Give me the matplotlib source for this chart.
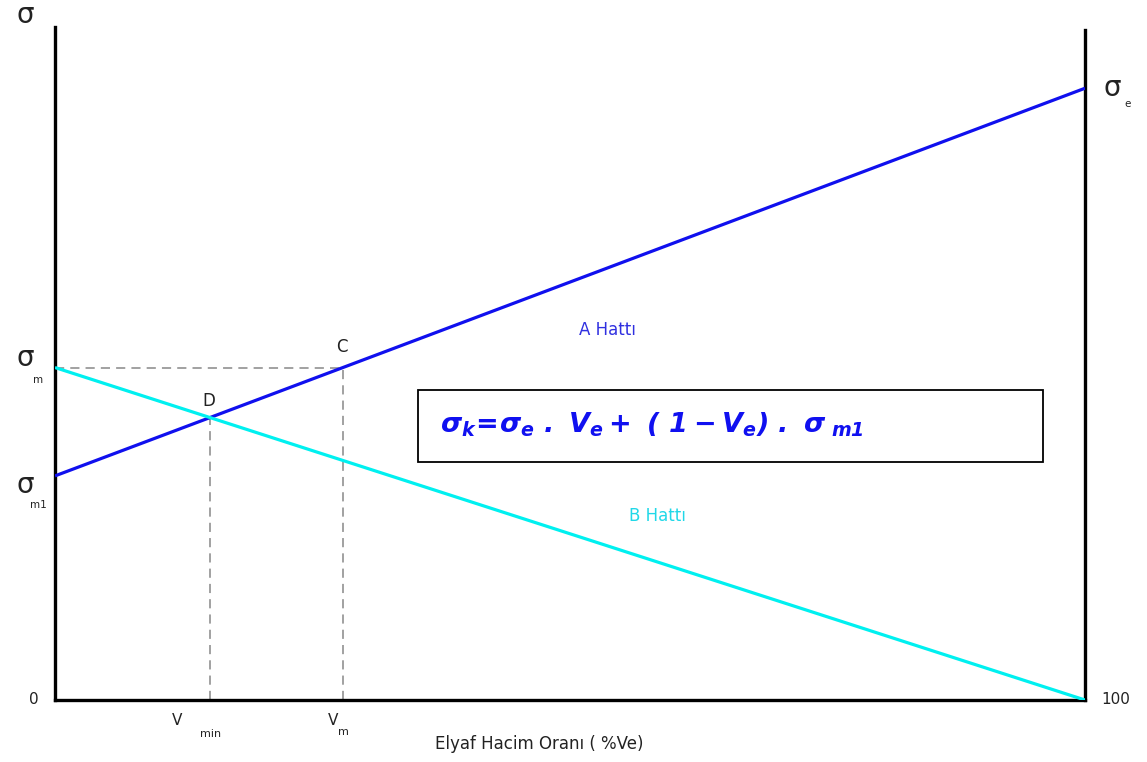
import numpy as np
import matplotlib
matplotlib.use("Agg")
import matplotlib.pyplot as plt
from matplotlib.patches import Rectangle

# fibre volume fraction axis (%Ve) and stress levels on a 0..100 scale
x_ends = [0, 100]
sigma_m = 49.4     # matrix strength
sigma_m1 = 33.3    # matrix stress at fibre failure strain
sigma_e = 90.9     # fibre strength
line_a = [sigma_m1, sigma_e]   # A Hattı
line_b = [sigma_m, 0.0]        # B Hattı

plt.rcParams['font.family'] = ['DejaVu Sans']
plt.rcParams['mathtext.fontset'] = 'custom'
plt.rcParams['mathtext.rm'] = 'DejaVu Sans:bold:italic'
plt.rcParams['mathtext.it'] = 'DejaVu Sans:bold:italic'

fig = plt.figure(figsize=(11.47, 7.62), dpi=100)
ax = fig.add_axes([55/1147, 1 - 700/762, 1030/1147, 673/762])
ax.set_xlim(0, 100)
ax.set_ylim(0, 100)

ax.plot(x_ends, line_a, color="#1010ee", lw=2.3, solid_capstyle='butt', zorder=3)
ax.plot(x_ends, line_b, color="#00f0f0", lw=2.3, solid_capstyle='butt', zorder=3)

# intersections: D (A meets B), C (A reaches sigma_m)
slope_a = (line_a[1] - line_a[0]) / 100
slope_b = (line_b[1] - line_b[0]) / 100
x_d = (line_b[0] - line_a[0]) / (slope_a - slope_b)
y_d = line_a[0] + slope_a * x_d
x_c = (sigma_m - line_a[0]) / slope_a

dash = dict(color="#888888", lw=1.1, ls=(0, (6, 4)), zorder=2)
ax.plot([0, x_c], [sigma_m, sigma_m], **dash)
ax.plot([x_c, x_c], [0, sigma_m], **dash)
ax.plot([x_d, x_d], [0, y_d], **dash)

ax.spines['top'].set_visible(False)
for s in ['left', 'right', 'bottom']:
    ax.spines[s].set_linewidth(2.4)
    ax.spines[s].set_color('black')
ax.spines['right'].set_bounds(0, 99.5)
ax.set_xticks([])
ax.set_yticks([])

txt = "#222222"
big = 20
sub = 7.5
ax.text(-2.9, 101.8, "σ", fontsize=big, color=txt, ha='center', va='center', clip_on=False)
ax.text(-2.9, sigma_m + 1.4, "σ", fontsize=big, color=txt, ha='center', va='center', clip_on=False)
ax.text(-1.6, sigma_m - 1.8, "m", fontsize=sub, color=txt, ha='center', va='center', clip_on=False)
ax.text(-2.9, sigma_m1 - 1.3, "σ", fontsize=big, color=txt, ha='center', va='center', clip_on=False)
ax.text(-1.6, sigma_m1 - 4.3, "m1", fontsize=sub, color=txt, ha='center', va='center', clip_on=False)
ax.text(102.7, sigma_e, "σ", fontsize=big, color=txt, ha='center', va='center', clip_on=False)
ax.text(104.1, sigma_e - 2.3, "e", fontsize=sub, color=txt, ha='center', va='center', clip_on=False)
ax.text(-2.1, 0, "0", fontsize=11, color=txt, ha='center', va='center', clip_on=False)
ax.text(103.0, 0, "100", fontsize=11, color=txt, ha='center', va='center', clip_on=False)

ax.text(x_d - 3.2, -3.0, "V", fontsize=11, color=txt, ha='center', va='center', clip_on=False)
ax.text(x_d + 0.1, -5.0, "min", fontsize=8, color=txt, ha='center', va='center', clip_on=False)
ax.text(x_c - 1.0, -3.0, "V", fontsize=11, color=txt, ha='center', va='center', clip_on=False)
ax.text(x_c + 0.1, -4.8, "m", fontsize=8, color=txt, ha='center', va='center', clip_on=False)
ax.text(47.0, -6.6, "Elyaf Hacim Oranı ( %Ve)", fontsize=12, color=txt, ha='center', va='center', clip_on=False)

ax.text(x_c - 0.1, sigma_m + 3.0, "C", fontsize=12, color=txt, ha='center', va='center')
ax.text(x_d - 0.1, y_d + 2.5, "D", fontsize=12, color=txt, ha='center', va='center')

ax.text(53.6, 55.0, "A Hattı", fontsize=12, color="#3030e0", ha='center', va='center')
ax.text(58.5, 27.3, "B Hattı", fontsize=12, color="#20d8e8", ha='center', va='center')

ax.add_patch(Rectangle((35.2, 35.4), 60.7, 10.7, fill=False, ec='black', lw=1.3, zorder=4))
ax.text(37.4, 40.9,
        r"$\sigma_k\!=\!\sigma_e\ .\ V_e + \ (\ 1 - V_e)\ .\ \sigma_{\ m1}$",
        fontsize=19.5, color="#1010f0", ha='left', va='center')

fig.savefig("out.png", dpi=100)
